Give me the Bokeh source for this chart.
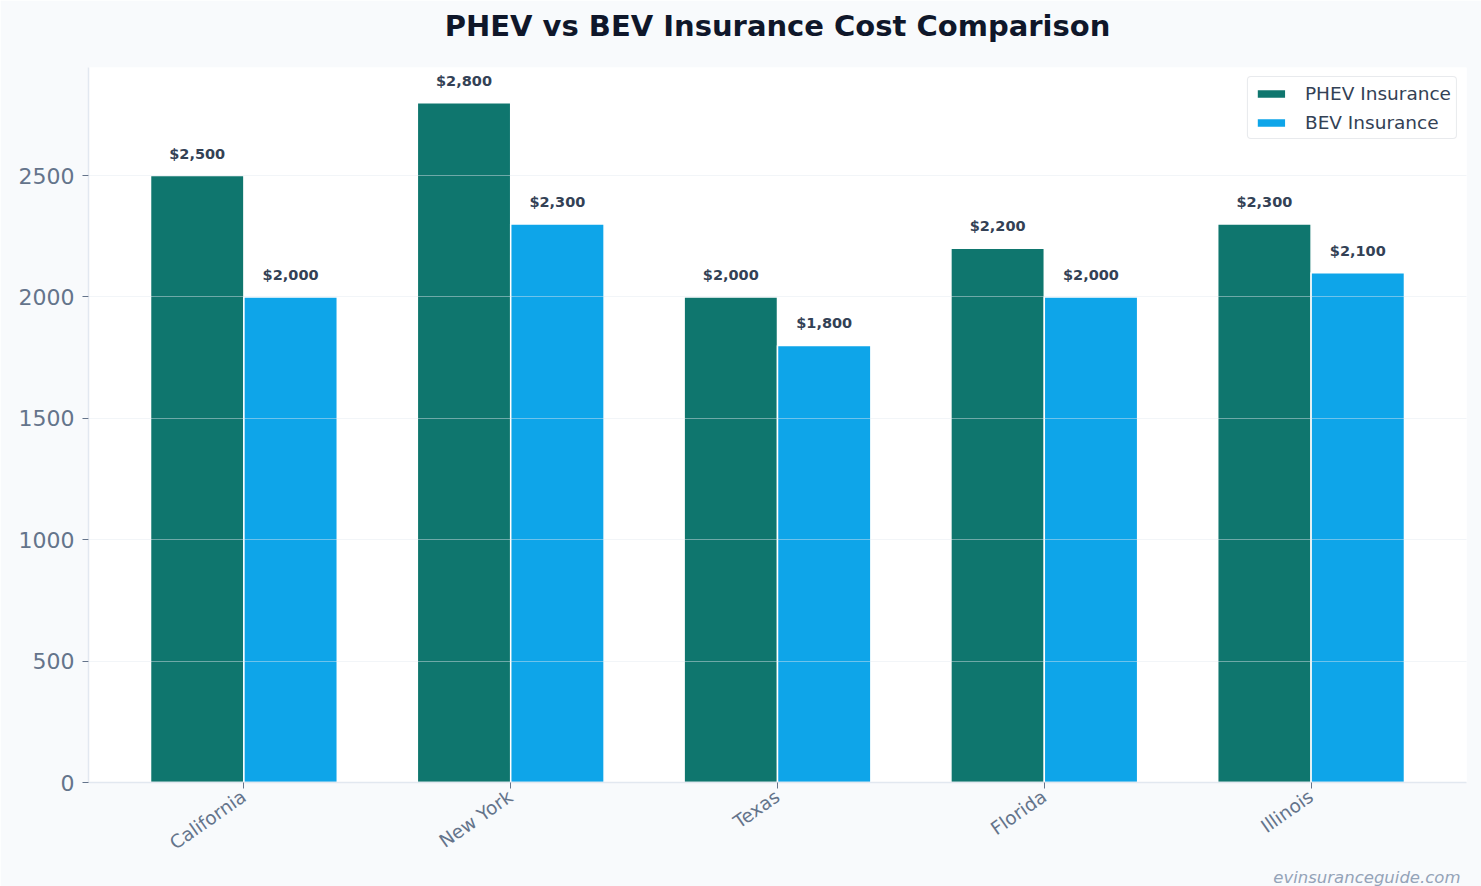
from bokeh.plotting import figure
from bokeh.models import ColumnDataSource, FactorRange, Range1d, LabelSet, Title, SingleIntervalTicker, Legend, LegendItem
from bokeh.transform import dodge
from bokeh.embed import file_html
from bokeh.resources import INLINE
from bokeh.core.properties import value

states = ["California", "New York", "Texas", "Florida", "Illinois"]
phev = [2500, 2800, 2000, 2200, 2300]
bev = [2000, 2300, 1800, 2000, 2100]
phev_labels = ["$2,500", "$2,800", "$2,000", "$2,200", "$2,300"]
bev_labels = ["$2,000", "$2,300", "$1,800", "$2,000", "$2,100"]

FONT = "DejaVu Sans"
PHEV_COLOR = "#0f766e"
BEV_COLOR = "#0ea5e9"

src = ColumnDataSource(dict(state=states, phev=phev, bev=bev,
                            phev_lab=phev_labels, bev_lab=bev_labels))

p = figure(width=1481, height=886, output_backend="svg", toolbar_location=None,
           x_range=FactorRange(factors=states, range_padding=0.033),
           y_range=Range1d(0, 2945),
           min_border_left=88, min_border_right=15, min_border_top=67, min_border_bottom=104,
           background_fill_color="white", border_fill_color="#f8fafc")
p.title.text = ""

# spacer between frame and title (closest to frame), then the title itself
p.add_layout(Title(text=" ", text_font_size="14px", standoff=7), "above")
p.add_layout(Title(text="PHEV vs BEV Insurance Cost Comparison", align="center",
                   text_font=FONT, text_font_size="29px", text_font_style="bold",
                   text_color="#0f172a", standoff=0, offset=0), "above")

r1 = p.vbar(x=dodge("state", -0.175, range=p.x_range), top="phev", width=0.35, source=src,
            fill_color=PHEV_COLOR, line_color="white", line_width=1.5)
r2 = p.vbar(x=dodge("state", 0.175, range=p.x_range), top="bev", width=0.35, source=src,
            fill_color=BEV_COLOR, line_color="white", line_width=1.5)

for col, lab, off in (("phev", "phev_lab", -0.175), ("bev", "bev_lab", 0.175)):
    ls = LabelSet(x=dodge("state", off, range=p.x_range), y=col, text=lab, source=src,
                  y_offset=14, text_align="center", text_baseline="bottom",
                  text_font=value(FONT), text_font_size="14.5px", text_font_style="bold",
                  text_color="#334155")
    p.add_layout(ls)

legend = Legend(items=[LegendItem(label="PHEV Insurance", renderers=[r1]),
                       LegendItem(label="BEV Insurance", renderers=[r2])],
                location="top_right")
legend.label_text_font = FONT
legend.label_text_font_size = "18.5px"
legend.label_text_color = "#334155"
legend.label_height = 22
legend.border_line_color = "#d1d5db"
legend.border_line_width = 1.5
legend.border_radius = 4
legend.background_fill_color = "white"
legend.glyph_width = 36
legend.glyph_height = 11
legend.spacing = 7
legend.padding = 5
legend.margin = 9
legend.label_standoff = 16
p.add_layout(legend)

p.xgrid.grid_line_color = None
p.ygrid.grid_line_color = "#e2e8f0"
p.ygrid.grid_line_alpha = 0.45
p.ygrid.level = "overlay"
p.yaxis.ticker = SingleIntervalTicker(interval=500)

for ax in (p.xaxis[0], p.yaxis[0]):
    ax.axis_line_color = "#e2e8f0"
    ax.axis_line_width = 1.5
    ax.major_tick_line_color = "#64748b"
    ax.major_tick_in = 0
    ax.major_tick_out = 6
    ax.minor_tick_line_color = None
    ax.major_label_text_font = FONT
    ax.major_label_text_color = "#64748b"

p.yaxis.major_label_text_font_size = "22px"
p.yaxis.major_label_standoff = 8
p.xaxis.major_label_text_font_size = "18.5px"
p.xaxis.major_label_orientation = 0.61
p.xaxis.major_label_standoff = 6
p.outline_line_color = None

# watermark below the category axis, right aligned
p.add_layout(Title(text="evinsuranceguide.com", align="right", text_font=FONT,
                   text_font_size="16.5px", text_font_style="italic", text_color="#94a3b8",
                   offset=6, standoff=0), "below")

open("out.html", "w").write(file_html(p, INLINE))
